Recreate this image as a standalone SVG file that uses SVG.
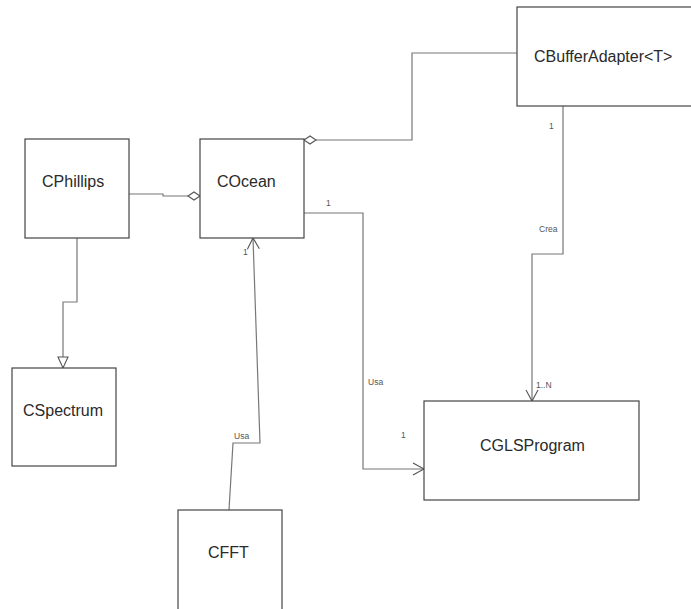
<svg xmlns="http://www.w3.org/2000/svg" width="691" height="609" viewBox="0 0 691 609">
<style>
.box{fill:#fff;stroke:#444;stroke-width:1.2}
.name{font-family:"Liberation Sans",Arial,sans-serif;font-size:16px;fill:#2a2a2a}
.line{fill:none;stroke:#777;stroke-width:1.2}
.lbl{font-family:"Liberation Sans",Arial,sans-serif;font-size:8.5px;fill:#555}
.dia{fill:#fff;stroke:#555;stroke-width:1.1}
</style>
<defs>
<marker id="open" markerWidth="14" markerHeight="14" refX="12" refY="7" orient="auto" markerUnits="userSpaceOnUse">
<path d="M1,1 L12,7 L1,13" fill="none" stroke="#555" stroke-width="1.1"/>
</marker>
<marker id="tri" markerWidth="14" markerHeight="14" refX="12" refY="6" orient="auto" markerUnits="userSpaceOnUse">
<path d="M1,1 L12,6 L1,11 Z" fill="#fff" stroke="#555" stroke-width="1.1"/>
</marker>
</defs>
<rect width="691" height="609" fill="#fff"/>
<g id="connectors">
<path class="line" d="M129,194 L163,194 L163,196 L188,196"/>
<path class="dia" d="M188,196 L194,192 L200,196 L194,200 Z"/>
<path class="line" d="M517,53 L412,53 L412,140 L316,140"/>
<path class="dia" d="M304,140 L310,136 L316,140 L310,144 Z"/>
<path class="line" d="M77,238 L77,302 L63,302 L63,368" marker-end="url(#tri)"/>
<path class="line" d="M563,106 L563,254 L532,254 L532,401" marker-end="url(#open)"/>
<path class="line" d="M304,213 L363,213 L363,469 L424,469" marker-end="url(#open)"/>
<path class="line" d="M229,510 L233,443 L260,443 L253,238" marker-end="url(#open)"/>
<text class="lbl" x="549" y="129">1</text>
<text class="lbl" x="539" y="232">Crea</text>
<text class="lbl" x="536" y="388">1..N</text>
<text class="lbl" x="326" y="206">1</text>
<text class="lbl" x="368" y="385">Usa</text>
<text class="lbl" x="401" y="438">1</text>
<text class="lbl" x="243" y="255">1</text>
<text class="lbl" x="234" y="439">Usa</text>
</g>
<g id="CPhillips"><rect class="box" x="25" y="139" width="104" height="99"/><text class="name" x="42" y="187">CPhillips</text></g>
<g id="COcean"><rect class="box" x="200" y="139" width="104" height="99"/><text class="name" x="217" y="187">COcean</text></g>
<g id="CBufferAdapter"><rect class="box" x="517" y="7" width="185" height="99"/><text class="name" x="534" y="62">CBufferAdapter&lt;T&gt;</text></g>
<g id="CSpectrum"><rect class="box" x="12" y="368" width="104" height="98"/><text class="name" x="23" y="416">CSpectrum</text></g>
<g id="CGLSProgram"><rect class="box" x="424" y="401" width="215" height="99"/><text class="name" x="480" y="451">CGLSProgram</text></g>
<g id="CFFT"><rect class="box" x="178" y="510" width="104" height="110"/><text class="name" x="208" y="558">CFFT</text></g>
</svg>
